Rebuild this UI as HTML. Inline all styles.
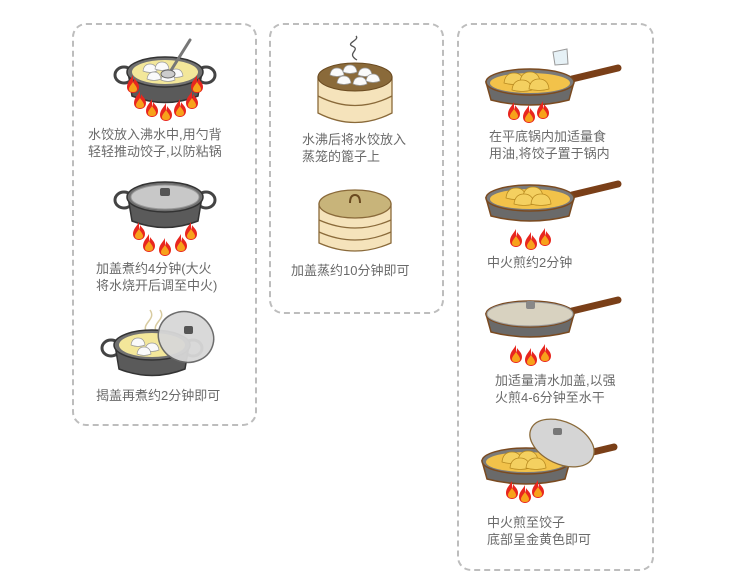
<!DOCTYPE html>
<html><head><meta charset="utf-8"><style>
html,body{margin:0;padding:0;background:#fff;}
body{width:730px;height:584px;position:relative;overflow:hidden;font-family:"Liberation Sans","Noto Sans CJK SC",sans-serif;}
.box{position:absolute;border:2px dashed #bdbdbd;border-radius:14px;box-sizing:border-box;}
.t{position:absolute;font-size:13px;line-height:17px;color:#6a6a6a;white-space:nowrap;}
svg{position:absolute;left:0;top:0;}
</style></head><body>
<div class="box" style="left:72px;top:23px;width:185px;height:403px"></div>
<div class="box" style="left:269px;top:23px;width:175px;height:291px"></div>
<div class="box" style="left:457px;top:23px;width:197px;height:548px"></div>

<svg width="730" height="584" viewBox="0 0 730 584">
<defs>
<g id="fl">
<path d="M0,-9 C-2,-5 -6,-2 -6,3 C-6,7 -3,9 0,9 C3,9 6,7 6,3 C6,-1 3,-3 1,-6 C1,-3 0,-2 0,-1 C0,-4 0,-7 0,-9Z" fill="#e8261e"/>
<path d="M0,-2 C-2,1 -4,3 -4,5 C-4,7.5 -2,8 0,8 C2,8 4,7.5 4,5 C4,3 2,1 0,-2Z" fill="#f7a21b"/>
</g>
<g id="pot">
<ellipse cx="-41" cy="3" rx="9" ry="8" fill="none" stroke="#444" stroke-width="3"/>
<ellipse cx="41" cy="3" rx="9" ry="8" fill="none" stroke="#444" stroke-width="3"/>
<path d="M-37,0 L-33,24 Q0,37 33,24 L37,0Z" fill="#5a5a5a" stroke="#333" stroke-width="1.5"/>
<ellipse cx="0" cy="0" rx="38" ry="15" fill="#707070" stroke="#333" stroke-width="1.5"/>
</g>
<g id="pan">
<line x1="42" y1="-3" x2="88" y2="-14" stroke="#7a3f18" stroke-width="7" stroke-linecap="round"/>
<path d="M-44,0 L-39,18 Q0,28 39,18 L44,0Z" fill="#6a6a6a" stroke="#7a4a20" stroke-width="1.5"/>
<ellipse cx="0" cy="0" rx="44" ry="13" fill="#7a7a7a" stroke="#7a4a20" stroke-width="1.5"/>
<ellipse cx="0" cy="1" rx="40" ry="10" fill="#f2c24a"/>
</g>
<g id="dump">
<path d="M-10,3 Q-9,-7 0,-7 Q9,-7 10,3 Q0,6 -10,3Z" fill="#f4d060" stroke="#b88a20" stroke-width="0.8"/>
</g>
<g id="wdump">
<path d="M-7,2 Q-6,-5 0,-5 Q6,-5 7,2 Q0,5 -7,2Z" fill="#fafafa" stroke="#999" stroke-width="0.7"/>
</g>
</defs>

<!-- Pot 1 -->
<g transform="translate(165,72)">
<use href="#pot"/>
<ellipse cx="0" cy="0" rx="33" ry="12" fill="#f3e79a"/>
<use href="#wdump" x="-15" y="-3"/><use href="#wdump" x="-3" y="-5"/><use href="#wdump" x="11" y="2"/><use href="#wdump" x="-11" y="5"/><use href="#wdump" x="3" y="6"/>
<line x1="5" y1="0" x2="25" y2="-32" stroke="#777" stroke-width="3" stroke-linecap="round"/>
<ellipse cx="3" cy="2" rx="7" ry="4" fill="#ccc" stroke="#666"/>
</g>
<use href="#fl" x="133" y="84"/><use href="#fl" x="197" y="84"/>
<use href="#fl" x="140" y="100"/><use href="#fl" x="152" y="108"/><use href="#fl" x="166" y="112"/><use href="#fl" x="180" y="108"/><use href="#fl" x="192" y="100"/>

<!-- Pot 2 -->
<g transform="translate(165,197)">
<use href="#pot"/>
<ellipse cx="0" cy="0" rx="34" ry="12" fill="#c8c8c8" stroke="#999"/>
<rect x="-5" y="-9" width="10" height="8" rx="2" fill="#555"/>
</g>
<use href="#fl" x="139" y="231"/><use href="#fl" x="191" y="231"/>
<use href="#fl" x="149" y="243"/><use href="#fl" x="165" y="247"/><use href="#fl" x="181" y="243"/>

<!-- Pot 3 -->
<g transform="translate(152,345)">
<path d="M-5,-12 C-12,-22 5,-25 -2,-35 M5,-12 C-2,-22 15,-25 8,-35" fill="none" stroke="#d8cba0" stroke-width="1.5"/>
<use href="#pot"/>
<ellipse cx="0" cy="0" rx="33" ry="12" fill="#f3e79a"/>
<use href="#wdump" x="-14" y="-2"/><use href="#wdump" x="0" y="3"/><use href="#wdump" x="-8" y="7"/>
</g>
<ellipse cx="186" cy="337" rx="28" ry="25" transform="rotate(20 186 337)" fill="#d8d8d8" stroke="#666" stroke-width="1.5" opacity="0.95"/>
<rect x="184" y="326" width="9" height="8" rx="2" fill="#555"/>

<!-- Steamer 1 -->
<g>
<path d="M357,60 C345,53 362,50 352,46 C346,43 360,40 356,36" fill="none" stroke="#555" stroke-width="1.3"/>
<path d="M318,77 L318,113 Q355,132 392,113 L392,77Z" fill="#f5e3bb" stroke="#8a6a3a" stroke-width="1.3"/>
<path d="M318,96 Q355,115 392,96" fill="none" stroke="#8a6a3a" stroke-width="1.3"/>
<ellipse cx="355" cy="77" rx="37" ry="14" fill="#8a6a3a" stroke="#6a4a20"/>
<use href="#wdump" x="337" y="73"/><use href="#wdump" x="350" y="70"/><use href="#wdump" x="365" y="73"/><use href="#wdump" x="344" y="81"/><use href="#wdump" x="360" y="82"/><use href="#wdump" x="373" y="79"/>
</g>

<!-- Steamer 2 -->
<g>
<path d="M319,204 L319,243 Q355,259 391,243 L391,204Z" fill="#f5e3bb" stroke="#8a6a3a" stroke-width="1.3"/>
<path d="M319,220 Q355,236 391,220 M319,232 Q355,248 391,232" fill="none" stroke="#8a6a3a" stroke-width="1.3"/>
<ellipse cx="355" cy="204" rx="36" ry="14" fill="#c8b47a" stroke="#8a6a3a" stroke-width="1.3"/>
<path d="M350,203 Q350,195 355,195 Q360,195 360,203" fill="none" stroke="#6a4a20" stroke-width="2"/>
</g>

<!-- Pan 1 -->
<g transform="translate(530,82)"><use href="#pan"/>
<use href="#dump" x="-16" y="-2"/><use href="#dump" x="0" y="-3"/><use href="#dump" x="-8" y="5"/><use href="#dump" x="9" y="4"/>
</g>
<path d="M553,52 L567,49 L568,64 L555,65Z" fill="#e6f1f6" stroke="#999"/>
<use href="#fl" x="514" y="111"/><use href="#fl" x="529" y="114"/><use href="#fl" x="543" y="110"/>

<!-- Pan 2 -->
<g transform="translate(530,198)"><use href="#pan"/>
<use href="#dump" x="-14" y="-3"/><use href="#dump" x="3" y="-4"/><use href="#dump" x="-6" y="3"/><use href="#dump" x="11" y="3"/>
</g>
<use href="#fl" x="516" y="238"/><use href="#fl" x="531" y="241"/><use href="#fl" x="545" y="237"/>

<!-- Pan 3 -->
<g transform="translate(530,314)"><use href="#pan"/>
<ellipse cx="0" cy="0" rx="43" ry="12" fill="#d8d2c0" stroke="#999"/>
<rect x="-4" y="-13" width="9" height="8" rx="2" fill="#888"/>
</g>
<use href="#fl" x="516" y="354"/><use href="#fl" x="531" y="357"/><use href="#fl" x="545" y="353"/>

<!-- Pan 4 -->
<g transform="translate(526,461)"><use href="#pan"/>
<use href="#dump" x="-14" y="-2"/><use href="#dump" x="2" y="-3"/><use href="#dump" x="-6" y="4"/><use href="#dump" x="10" y="4"/>
</g>
<ellipse cx="562" cy="443" rx="34" ry="21" transform="rotate(25 562 443)" fill="#d5d5d5" stroke="#8a6a3a" stroke-width="1.3"/>
<rect x="553" y="428" width="9" height="7" rx="2" fill="#777"/>
<use href="#fl" x="512" y="490"/><use href="#fl" x="525" y="494"/><use href="#fl" x="538" y="489"/>
</svg>

<div class="t" style="left:88px;top:126px">水饺放入沸水中,用勺背<br>轻轻推动饺子,以防粘锅</div>
<div class="t" style="left:96px;top:260px">加盖煮约4分钟(大火<br>将水烧开后调至中火)</div>
<div class="t" style="left:96px;top:387px">揭盖再煮约2分钟即可</div>
<div class="t" style="left:302px;top:131px">水沸后将水饺放入<br>蒸笼的篦子上</div>
<div class="t" style="left:291px;top:262px">加盖蒸约10分钟即可</div>
<div class="t" style="left:489px;top:128px">在平底锅内加适量食<br>用油,将饺子置于锅内</div>
<div class="t" style="left:487px;top:254px">中火煎约2分钟</div>
<div class="t" style="left:495px;top:372px">加适量清水加盖,以强<br>火煎4-6分钟至水干</div>
<div class="t" style="left:487px;top:514px">中火煎至饺子<br>底部呈金黄色即可</div>
</body></html>
